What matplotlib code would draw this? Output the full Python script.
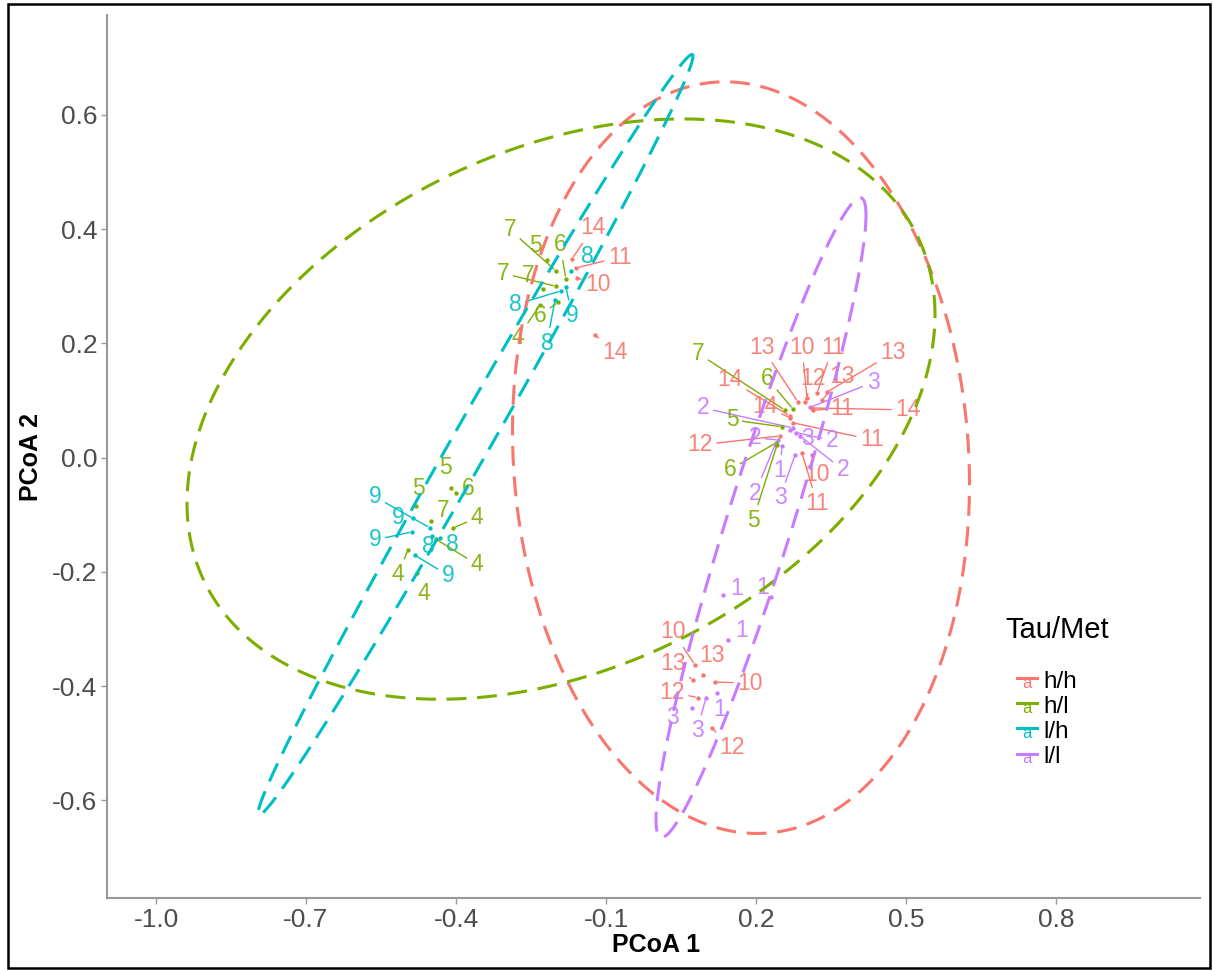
import numpy as np
import matplotlib
matplotlib.use("Agg")
import matplotlib.pyplot as plt
from matplotlib.patches import Rectangle

plt.rcParams['font.family'] = ['Liberation Sans', 'DejaVu Sans']

groups = ["h/h", "h/l", "l/h", "l/l"]
colors = ["#F8766D", "#7CAE00", "#00BFC4", "#C77CFF"]

# sample points (PCoA 1, PCoA 2), label = sample number, group index
pt_x = [-0.200, -0.218, -0.180, -0.170, -0.168, -0.160, -0.158, -0.226, -0.200, -0.190,
        -0.196, -0.180, -0.202, -0.232, -0.122,
        -0.480, -0.410, -0.400, -0.450, -0.486, -0.452, -0.406, -0.488, -0.448, -0.432,
        -0.440, -0.496, -0.482, -0.478,
        0.284, 0.302, 0.322, 0.342, 0.258, 0.268, 0.274, 0.298, 0.332, 0.308,
        0.274, 0.268, 0.314, 0.312, 0.252, 0.274, 0.248, 0.244, 0.268, 0.280,
        0.240, 0.252, 0.288, 0.312, 0.238, 0.278, 0.292, 0.242,
        0.134, 0.230, 0.144, 0.078, 0.074, 0.094, 0.118, 0.084, 0.112, 0.072,
        0.100, 0.122]
pt_y = [0.327, 0.346, 0.313, 0.327, 0.348, 0.332, 0.315, 0.295, 0.300, 0.292,
        0.272, 0.298, 0.276, 0.267, 0.215,
        -0.085, -0.053, -0.062, -0.111, -0.106, -0.123, -0.123, -0.130, -0.137, -0.140,
        -0.143, -0.161, -0.171, -0.202,
        0.097, 0.104, 0.113, 0.115, 0.083, 0.073, 0.085, 0.097, 0.101, 0.088,
        0.052, 0.070, 0.083, 0.087, 0.054, 0.061, 0.038, 0.031, 0.048, 0.044,
        0.026, 0.020, 0.038, 0.005, 0.022, 0.005, 0.008, 0.022,
        -0.241, -0.244, -0.320, -0.363, -0.390, -0.381, -0.393, -0.420, -0.474, -0.439,
        -0.420, -0.412]
pt_label = ["7", "5", "6", "8", "14", "11", "10", "7", "7", "8",
            "6", "9", "8", "4", "14",
            "5", "5", "6", "7", "9", "9", "4", "9", "8", "8",
            "4", "4", "9", "4",
            "13", "10", "11", "13", "7", "14", "6", "12", "13", "3",
            "2", "14", "11", "14", "5", "11", "12", "2", "3", "2",
            "6", "1", "2", "10", "2", "3", "11", "5",
            "1", "1", "1", "10", "13", "13", "10", "12", "12", "3",
            "3", "1"]
pt_group = [1, 1, 1, 2, 0, 0, 0, 1, 1, 2,
            1, 2, 2, 1, 0,
            1, 1, 1, 1, 2, 2, 1, 2, 2, 2,
            1, 1, 2, 1,
            0, 0, 0, 0, 1, 0, 1, 0, 0, 3,
            3, 0, 0, 0, 1, 0, 0, 3, 3, 3,
            1, 3, 3, 0, 3, 3, 0, 1,
            3, 3, 3, 0, 0, 0, 0, 0, 0, 3,
            3, 3]

# repelled label offsets (pixels)
lab_dx = [-46, -12, -6, 16, 21, 44, 21, -15, -53, -46,
          -18, 6, -8, -22, 20,
          2, -6, 12, 12, -15, -55, 24, -37, -4, 12,
          41, -10, 33, 7,
          -36, -5, 16, 66, -87, -60, -26, 8, 20, 63,
          -90, -25, 29, 96, -50, 79, -80, -23, 17, 36,
          -46, -2, 43, 5, -20, -15, 15, -24,
          14, -8, 14, -22, -20, 9, 35, -26, 20, -20,
          -9, 3]
lab_dy = [41, 15, 34, 14, 31, 11, -7, 14, 13, -14,
          -13, -28, -43, -32, -18,
          18, 20, 5, 11, 1, 31, 10, -8, -11, -7,
          -25, -25, -20, -20,
          55, 51, 46, 39, 57, 36, 31, 24, 23, 25,
          20, 11, 2, -2, 7, -17, -9, 2, -8, -8,
          -27, -24, -34, -20, -48, -43, -50, -75,
          7, 10, 10, 33, 17, 20, -1, 5, -19, -9,
          -33, -17]

# 95% ellipses per group: centre, spreads, correlation
ell_cx = [0.170, -0.190, -0.361, 0.210]
ell_cy = [0.000, 0.085, 0.040, -0.105]
ell_sx = [0.457, 0.748, 0.435, 0.210]
ell_sy = [0.658, 0.508, 0.666, 0.560]
ell_r = [-0.07, 0.325, 0.995, 0.945]

fig = plt.figure(figsize=(12.13, 9.71), dpi=100)
ax = fig.add_axes([107 / 1213, 73 / 971, 1093 / 1213, 883 / 971])

for i in range(len(pt_x)):
    c = colors[pt_group[i]]
    ax.scatter(pt_x[i], pt_y[i], s=10, color=c, zorder=3, linewidths=0)
    far = np.hypot(lab_dx[i], lab_dy[i]) > 22
    ax.annotate(pt_label[i], (pt_x[i], pt_y[i]),
                xytext=(lab_dx[i], lab_dy[i]), textcoords='offset pixels',
                ha='center', va='center', fontsize=16.5, color=c, alpha=0.9,
                zorder=3,
                arrowprops=dict(arrowstyle='-', color=c, lw=1.0, shrinkA=1,
                                shrinkB=2) if far else None)

t = np.linspace(0, 2 * np.pi, 500)
for g in range(len(groups)):
    ex = ell_cx[g] + ell_sx[g] * np.cos(t)
    ey = ell_cy[g] + ell_sy[g] * (ell_r[g] * np.cos(t) +
                                  np.sqrt(1 - ell_r[g] ** 2) * np.sin(t))
    ax.plot(ex, ey, color=colors[g], lw=2.2, dashes=(6.5, 3.5), zorder=4)

ax.set_xlim(-1.098, 1.088)
ax.set_ylim(-0.771, 0.775)
ax.set_xticks([-1.0, -0.7, -0.4, -0.1, 0.2, 0.5, 0.8])
ax.set_xticklabels(["-1.0", "-0.7", "-0.4", "-0.1", "0.2", "0.5", "0.8"])
ax.set_yticks([-0.6, -0.4, -0.2, 0.0, 0.2, 0.4, 0.6])
ax.set_yticklabels(["-0.6", "-0.4", "-0.2", "0.0", "0.2", "0.4", "0.6"])
ax.tick_params(labelsize=19, colors='#4D4D4D', length=4, width=1, pad=3)
ax.tick_params(color='#999999')
for s in ['top', 'right']:
    ax.spines[s].set_visible(False)
for s in ['left', 'bottom']:
    ax.spines[s].set_color('#999999')
    ax.spines[s].set_linewidth(1.5)

ax.set_xlabel('PCoA 1', fontsize=18, fontweight='bold')
ax.set_ylabel('PCoA 2', fontsize=18, fontweight='bold')
ax.xaxis.set_label_coords(0.502, -0.040)
ax.yaxis.set_label_coords(-0.059, 0.5)

# legend: text key ("a" with segment) per group
ax.text(0.8216, 0.3035, 'Tau/Met', transform=ax.transAxes, fontsize=21,
        ha='left', va='center', color='black')
key_y = [0.2450, 0.2165, 0.1880, 0.1595]
for g in range(len(groups)):
    ax.plot([0.8326, 0.8509], [key_y[g] + 0.004, key_y[g] + 0.004],
            transform=ax.transAxes, color=colors[g], lw=2.2, clip_on=False)
    ax.text(0.8417, key_y[g] - 0.002, 'a', transform=ax.transAxes, fontsize=12,
            ha='center', va='center', color=colors[g])
    ax.text(0.8564, key_y[g], groups[g], transform=ax.transAxes, fontsize=17.5,
            ha='left', va='center', color='black')

fig.patches.append(Rectangle((8 / 1213, 3 / 971), 1202 / 1213, 964 / 971,
                             transform=fig.transFigure, fill=False,
                             edgecolor='black', lw=1.8))

fig.savefig('out.png', dpi=100)
